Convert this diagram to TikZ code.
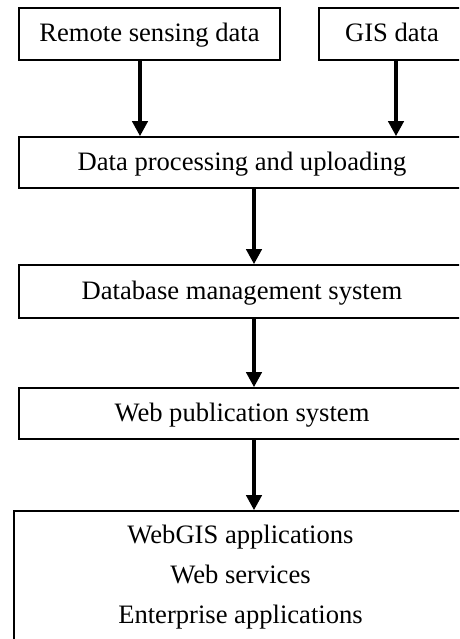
\documentclass[tikz,border=0pt]{standalone}
\usepackage{fontspec}
\setmainfont{Liberation Serif}
\usetikzlibrary{arrows.meta}

\tikzset{
  box/.style={draw, line width=1.5pt, inner sep=0pt, align=center,
    font=\fontsize{26.6}{40}\selectfont},
  onebox/.style={box, text height=20pt, text depth=4pt},
  flow/.style={line width=4pt, -{Triangle[width=15pt,length=15pt]}}
}

\begin{document}
\begin{tikzpicture}[x=1pt,y=1pt]
\clip (0,0) rectangle (459,639);
% boxes
\node[onebox, minimum width=261, minimum height=52] (remote) at (149.5,605) {Remote sensing data};
\node[onebox, minimum width=146, minimum height=52] (gis) at (392,605) {GIS data};
\node[onebox, minimum width=446, minimum height=51] (process) at (242,476.5) {Data processing and uploading};
\node[onebox, minimum width=446, minimum height=53] (database) at (242,347.5) {Database management system};
\node[onebox, minimum width=446, minimum height=51] (publish) at (242,225.5) {Web publication system};
\node[box, minimum width=453, minimum height=132] (apps) at (240.5,62) {WebGIS applications\\ Web services\\ Enterprise applications};
% arrow columns
\coordinate (c1) at (140,0);
\coordinate (c2) at (396,0);
\coordinate (c3) at (254,0);
\draw[flow] (remote.south -| c1) -- (process.north -| c1);
\draw[flow] (gis.south -| c2) -- (process.north -| c2);
\draw[flow] (process.south -| c3) -- (database.north -| c3);
\draw[flow] (database.south -| c3) -- (publish.north -| c3);
\draw[flow] (publish.south -| c3) -- (apps.north -| c3);
\end{tikzpicture}
\end{document}
